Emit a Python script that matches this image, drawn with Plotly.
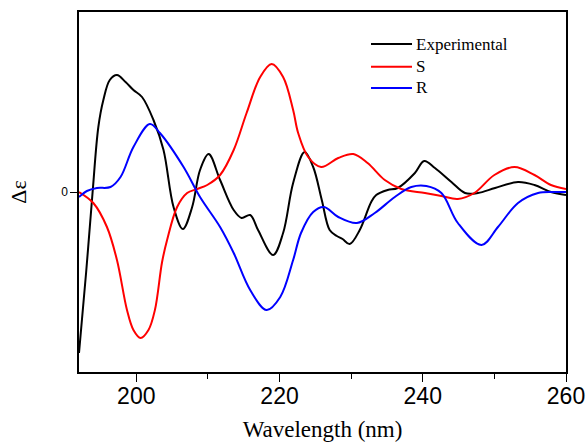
import plotly.graph_objects as go

# Experimental
exp_x = [192.0, 193.0, 193.9, 194.7, 195.4, 196.3, 197.3, 198.5, 199.6, 200.8, 202.4, 203.8, 205.2, 206.5,
         207.8, 208.9, 210.1, 211.7, 213.6, 214.7, 215.9, 217.0, 219.1, 220.5, 221.9, 223.5, 224.7,
         225.9, 227.0, 228.0, 228.8, 229.8, 231.2, 232.8, 233.5, 235.1, 236.5, 238.9, 240.2, 241.7,
         244.0, 245.9, 247.7, 250.1, 253.3, 255.6, 257.9, 260.0]
exp_y = [-16.1, -8.0, 0.0, 6.5, 9.2, 11.2, 11.7, 11.0, 10.2, 9.5, 7.2, 4.2, -1.5, -3.7,
         -1.5, 2.2, 3.8, 1.2, -1.8, -2.6, -2.3, -3.8, -6.3, -4.1, 0.9, 4.0, 2.5,
         -0.8, -3.8, -4.4, -4.7, -5.2, -3.8, -1.0, -0.3, 0.2, 0.4, 1.9, 3.1, 2.4,
         1.0, -0.1, -0.1, 0.4, 1.0, 0.7, 0.0, -0.3]

# S
s_x = [192.0, 194.0, 195.9, 197.3, 198.7, 199.6, 200.6, 201.7, 202.6, 203.6, 204.3, 205.7, 207.1, 208.5, 209.9,
       211.7, 213.6, 215.4, 217.3, 218.9, 220.5, 221.9, 222.6, 224.0, 225.8, 228.2, 230.3, 232.3,
       234.7, 237.0, 240.3, 242.6, 244.9, 247.2, 250.0, 252.8, 255.6, 257.9, 260.0]
s_y = [0.0, -1.1, -3.5, -6.8, -11.8, -13.8, -14.6, -13.8, -11.8, -7.0, -4.8, -1.5, -0.1, 0.3, 0.7,
       1.7, 4.2, 7.9, 11.5, 12.8, 11.5, 8.2, 5.9, 3.5, 2.5, 3.4, 3.8, 2.9,
       1.2, 0.3, -0.1, -0.4, -0.7, -0.1, 1.7, 2.5, 1.7, 0.7, 0.3]

# R
r_x = [192.0, 193.1, 194.5, 196.4, 197.8, 199.6, 201.9, 203.3, 206.6, 208.9, 211.7, 213.6, 215.9,
       218.2, 220.1, 221.9, 223.0, 224.7, 226.2, 228.2, 230.8, 233.3, 236.1, 238.4, 240.5, 242.6,
       244.9, 248.2, 250.5, 253.3, 256.1, 258.4, 260.0]
r_y = [-0.5, 0.1, 0.4, 0.5, 1.5, 4.5, 6.8, 5.9, 2.5, -0.5, -3.5, -6.1, -9.8,
       -11.8, -10.5, -6.8, -4.1, -2.0, -1.5, -2.5, -3.1, -2.1, -0.5, 0.5, 0.6, -0.1,
       -3.1, -5.3, -3.5, -1.1, -0.1, 0.0, 0.0]

series_names = ["Experimental", "S", "R"]
series_colors = ["black", "#ff0000", "#0000ff"]

x_ticks = [200, 220, 240, 260]
y_ticks = [0]

SERIF = "Liberation Serif, Times New Roman, DejaVu Serif, serif"
SANS = "Liberation Sans, Arial, sans-serif"

fig = go.Figure()
for name, xs, ys, col in zip(series_names, [exp_x, s_x, r_x], [exp_y, s_y, r_y], series_colors):
    fig.add_trace(go.Scatter(x=xs, y=ys, name=name, mode="lines", showlegend=False,
                             line=dict(color=col, width=2, shape="spline", smoothing=1.0)))

# custom legend (longer sample lines as in the reference)
leg_y = [0.911, 0.848, 0.789]
for name, col, yy in zip(series_names, series_colors, leg_y):
    fig.add_shape(type="line", xref="paper", yref="paper", x0=0.5996, x1=0.6838, y0=yy, y1=yy,
                  line=dict(color=col, width=2))
    fig.add_annotation(xref="paper", yref="paper", x=0.688, y=yy, text=name, showarrow=False,
                       xanchor="left", yanchor="middle",
                       font=dict(family=SERIF, size=17, color="black"))

fig.update_layout(
    width=588, height=443,
    margin=dict(l=79, r=22, t=12, b=71, autoexpand=False),
    paper_bgcolor="white", plot_bgcolor="white",
    showlegend=False,
    xaxis=dict(range=[192, 260], tickvals=x_ticks, ticks="outside", ticklen=8, tickwidth=1,
               tickcolor="black", showline=True, linecolor="black", linewidth=1.5, mirror=True,
               showgrid=False, zeroline=False, automargin=False, ticklabelstandoff=-5,
               tickfont=dict(family=SANS, size=23, color="black"),
               minor=dict(tickvals=[210, 230, 250], ticks="outside", ticklen=5, tickcolor="black"),
               title=dict(text="Wavelength (nm)", standoff=13,
                          font=dict(family=SERIF, size=23, color="black"))),
    yaxis=dict(range=[-18, 18], tickvals=y_ticks, ticks="outside", ticklen=7, tickwidth=1,
               tickcolor="black", showline=True, linecolor="black", linewidth=1.5, mirror=True,
               showgrid=False, zeroline=False, automargin=False,
               tickfont=dict(family=SANS, size=12, color="black"),
               title=dict(text="Δε", standoff=28,
                          font=dict(family=SERIF, size=22, color="black"))),
)

fig.write_html("out.html", config={"displayModeBar": False},
               post_script="document.body.style.margin='0';document.body.style.padding='0';")
